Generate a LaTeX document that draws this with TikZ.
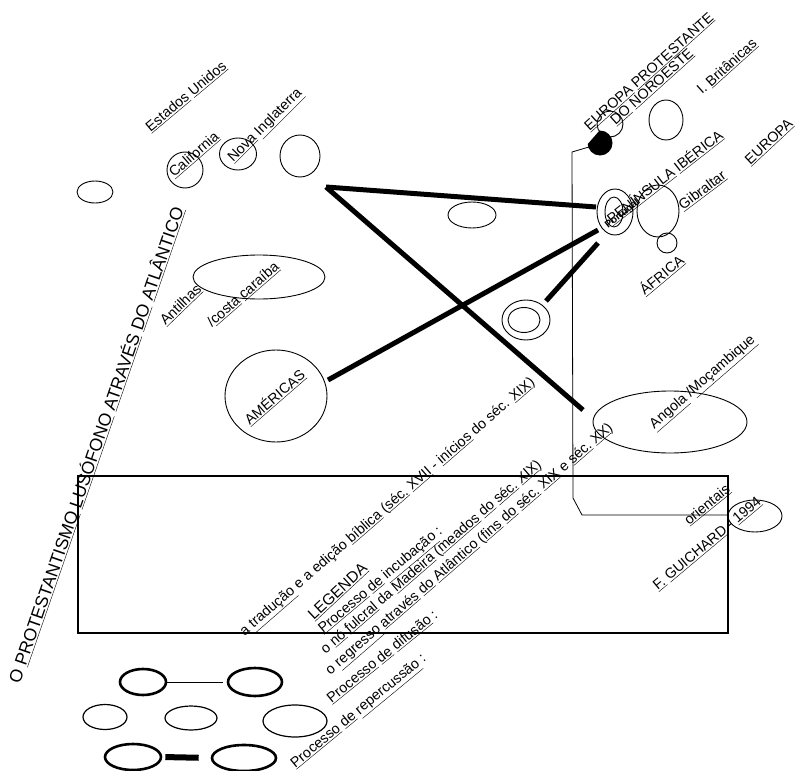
\documentclass[tikz,border=0pt]{standalone}
\usepackage{fontspec}
\setmainfont{Liberation Sans}
\usetikzlibrary{shapes.geometric}
\newcommand\ulw[1]{\underline{#1}}
\begin{document}
\begin{tikzpicture}[x=1pt,y=-1pt,
  ring/.style={draw, ellipse, line width=0.9pt, inner sep=0pt},
  thickring/.style={draw, ellipse, line width=2.6pt, inner sep=0pt},
  lbl/.style={inner sep=0pt, anchor=base, font=\fontsize{14.3}{16}\selectfont},
  route/.style={line width=5pt},
  frame/.style={line width=2.2pt},
  guide/.style={line width=0.8pt}]
\useasboundingbox (0,0) rectangle (798,771);

% --- Americas side -------------------------------------------------
\node[ring, minimum width=36pt, minimum height=22pt] (westoval) at (95,192) {};
\node[ring, minimum width=36pt, minimum height=36pt] (calif) at (185,170) {};
\node[ring, minimum width=37pt, minimum height=32pt] (novaing) at (238,154) {};
\node[ring, minimum width=40pt, minimum height=42pt] (usa) at (300,156) {};
\node[ring, minimum width=48pt, minimum height=26pt] (midoval) at (472,215) {};
\node[ring, minimum width=132pt, minimum height=44pt] (antilhas) at (259,277) {};
\node[ring, minimum width=102pt, minimum height=92pt] (americas) at (276,396) {};

% --- Madeira (double ring) ------------------------------------------
\node[ring, minimum width=48pt, minimum height=40pt] (madeira) at (526,320) {};
\node[ring, minimum width=32pt, minimum height=25pt] (madeirain) at (524,320) {};

% --- Europe -----------------------------------------------------------
\node[ring, minimum width=26pt, minimum height=26pt] (noroeste) at (610,124) {};
\node[ring, minimum width=34pt, minimum height=40pt] (brit) at (666,120) {};
\node[ring, minimum width=36pt, minimum height=46pt] (iberia) at (615,212) {};
\node[ring, minimum width=18pt, minimum height=30pt] (portugal) at (614,212) {};
\node[ring, minimum width=42pt, minimum height=52pt] (spain) at (658,211) {};
\node[ring, minimum width=20pt, minimum height=20pt] (gibraltar) at (667,243) {};
% half-filled marker where the guide line starts
\begin{scope}
  \clip (586,146) -- (600,130) -- (630,130) -- (630,170) -- (580,170) -- (580,153) -- cycle;
  \fill (600,143) circle[radius=12.5];
\end{scope}
\coordinate (blob) at (589,147);

% --- Africa -----------------------------------------------------------
\node[ring, minimum width=154pt, minimum height=62pt] (angola) at (670,422) {};
\node[ring, minimum width=54pt, minimum height=32pt] (guichard) at (755,516) {};

% --- routes -----------------------------------------------------------
\coordinate (hub) at (326,187);
\coordinate (ibW) at (596,207);
\coordinate (angNW) at (583,410);
\coordinate (amE) at (328,380);
\coordinate (ibSW) at (598,230);
\coordinate (madNE) at (546,301);
\coordinate (ibS) at (598,243);
\draw[route] (hub) -- (ibW);
\draw[route] (hub) -- (angNW);
\draw[route] (amE) -- (ibSW);
\draw[route] (madNE) -- (ibS);

% --- legend frame and guide line -------------------------------------
\draw[frame] (78,476) rectangle (728,633);
\coordinate (g1) at (572,152);
\coordinate (g2) at (573,498);
\coordinate (g3) at (582,515);
\coordinate (g4) at (727,515);
\draw[guide] (blob) -- (g1) -- (g2) -- (g3) -- (g4);

% --- legend symbols ---------------------------------------------------
\node[thickring, minimum width=46pt, minimum height=26pt] (leg1a) at (143,682) {};
\node[thickring, minimum width=54pt, minimum height=28pt] (leg1b) at (255,682) {};
\draw[line width=1pt, shorten >=4pt] (leg1a.east) -- (leg1b.west);
\node[ring, line width=1.2pt, minimum width=44pt, minimum height=25pt] (leg2a) at (105,717) {};
\node[ring, line width=1.2pt, minimum width=52pt, minimum height=24pt] (leg2b) at (191,718) {};
\node[ring, line width=1.2pt, minimum width=64pt, minimum height=32pt] (leg2c) at (295,721) {};
\node[thickring, minimum width=56pt, minimum height=26pt] (leg3a) at (133,757) {};
\node[thickring, minimum width=64pt, minimum height=26pt] (leg3b) at (244,758) {};
\draw[line width=6pt, shorten <=3pt, shorten >=12pt] (leg3a.east) -- (leg3b.west);

% --- labels -------------------------------------------------------------
\node[lbl, rotate=70.9, font=\fontsize{17.6}{19}\selectfont] (title) at (102,447)
  {O \ulw{PROTESTANTISMO} \ulw{LUSÓFONO} \ulw{ATRAVÉS} \ulw{DO} \ulw{ATLÂNTICO}};
\node[lbl, rotate=40] (tEUA) at (189,100) {\ulw{Estados} \ulw{Unidos}};
\node[lbl, rotate=41] (tCal) at (197,158) {\ulw{California}};
\node[lbl, rotate=45] (tNova) at (268,128) {\ulw{Nova} \ulw{Inglaterra}};
\node[lbl, rotate=44] (tAnt) at (184,308) {\ulw{Antilhas}};
\node[lbl, rotate=41] (tCosta) at (246,298) {/\ulw{costa} \ulw{caraíba}};
\node[lbl, rotate=41] (tAm) at (278,401) {\ulw{AMÉRICAS}};
\node[lbl, rotate=42] (tEP) at (652,75) {\ulw{EUROPA} \ulw{PROTESTANTE}};
\node[lbl, rotate=42] (tNO) at (655,90) {\ulw{DO} \ulw{NOROESTE}};
\node[lbl, rotate=42] (tBrit) at (730,70) {I. \ulw{Britânicas}};
\node[lbl, rotate=38] (tPI) at (668,181) {\ulw{PENÍNSULA} \ulw{IBÉRICA}};
\node[lbl, rotate=38, font=\bfseries\fontsize{10}{12}\selectfont] (tPt) at (624,216) {Portugal};
\node[lbl, rotate=37] (tGib) at (705,194) {\ulw{Gibraltar}};
\node[lbl, rotate=43] (tEur) at (772,145) {\ulw{EUROPA}};
\node[lbl, rotate=40] (tAfr) at (665,279) {\ulw{ÁFRICA}};
\node[lbl, rotate=41] (tAng) at (705,385) {\ulw{Angola} /\ulw{Moçambique}};
\node[lbl, rotate=39] (tOri) at (710,508) {\ulw{orientais}};
\node[lbl, rotate=40] (tGui) at (710,547) {\ulw{F.} \ulw{GUICHARD} - \ulw{1994}};

\node[lbl, rotate=41] (lg0) at (390,510)
  {a \ulw{tradução} e a edição \ulw{bíblica} (\ulw{séc.} \ulw{XVII} - \ulw{inícios} do séc. \ulw{XIX})};
\node[lbl, rotate=43, font=\fontsize{15.5}{17}\selectfont] (lgT) at (341,595) {\ulw{LEGENDA}};
\node[lbl, rotate=40] (lg1) at (383,583) {\ulw{Processo} \ulw{de} \ulw{incubação} :};
\node[lbl, rotate=41] (lg2) at (434,560)
  {o \ulw{nó} \ulw{fulcral} da \ulw{Madeira} (\ulw{meados} \ulw{do} \ulw{séc.} \ulw{XIX})};
\node[lbl, rotate=41] (lg3) at (472,552)
  {o \ulw{regresso} \ulw{através} \ulw{do} \ulw{Atlântico} (\ulw{fins} \ulw{do} \ulw{séc.} \ulw{XIX} e \ulw{séc.} \ulw{XX})};
\node[lbl, rotate=39] (lg4) at (385,660) {\ulw{Processo} \ulw{de} \ulw{difusão} :};
\node[lbl, rotate=39.5] (lg5) at (361,714) {\ulw{Processo} \ulw{de} \ulw{repercussão} :};
\end{tikzpicture}
\end{document}
